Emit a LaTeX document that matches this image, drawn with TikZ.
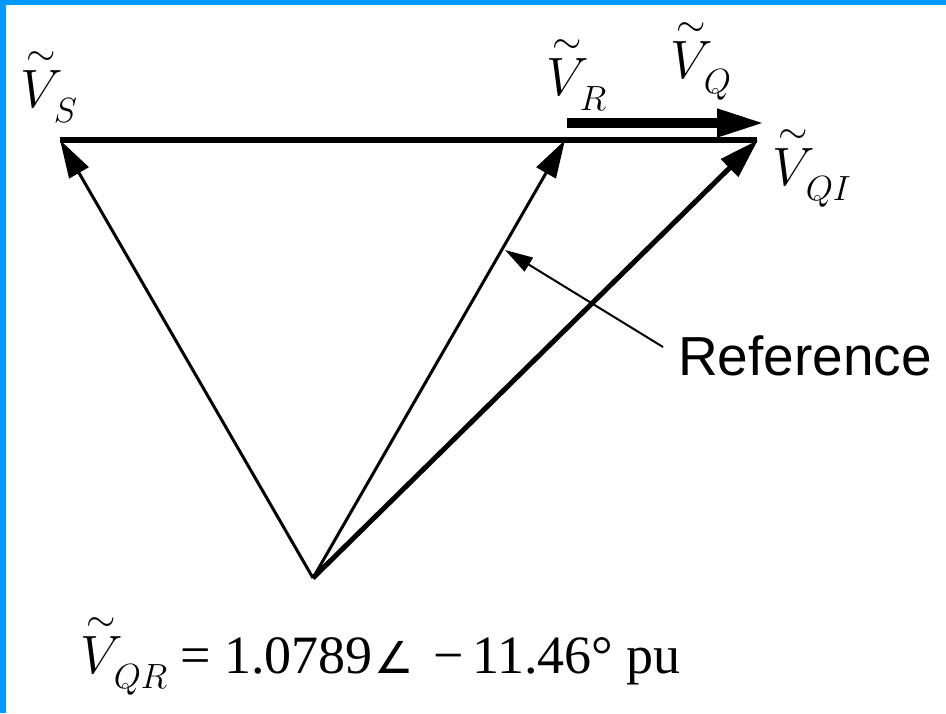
\RequirePackage{fix-cm}
\documentclass[tikz,border=0pt]{standalone}
\usepackage{amsmath}
\usepackage{fontspec}
\setmainfont{Liberation Serif}
\newfontfamily\refsans{Liberation Sans}
\newfontfamily\symsans{DejaVu Sans}
\usetikzlibrary{arrows.meta}
\definecolor{frameblue}{RGB}{0,153,255}
\newcommand\tV{\overset{\sim}{V}}
\newcommand\lowsub[1]{_{\kern-9pt\raisebox{-7pt}{\fontsize{35}{37}\selectfont$#1$}}}
\tikzset{
  vec/.style={line width=3pt, -{Triangle[length=38pt,width=22pt]}},
  thickvec/.style={line width=5pt, -{Triangle[length=40pt,width=24pt]}},
  qvec/.style={line width=10pt, -{Triangle[length=48pt,width=26pt]}},
  baseline/.style={line width=6pt},
  leader/.style={line width=2pt, -{Triangle[length=28pt,width=16pt]}},
  lab/.style={inner sep=0pt, anchor=base west, font=\fontsize{54}{60}\selectfont},
  eqpart/.style={inner sep=0pt, anchor=base west, font=\fontsize{54}{60}\selectfont},
}
\begin{document}
\begin{tikzpicture}[x=1pt,y=-1pt]
\useasboundingbox (0,0) rectangle (946,713);
\fill[frameblue] (0,0) rectangle (946,713);
\fill[white] (6,5) rectangle (946,713);
\coordinate (O) at (313,578);
\coordinate (S) at (60,140);
\coordinate (R) at (565,140);
\coordinate (QI) at (758,140);
\coordinate (Hend) at (757,140);
\coordinate (Qs) at (567,123);
\coordinate (Qe) at (765,123);
\coordinate (Rtip) at (505,250);
\coordinate (refstart) at (663,347);
% horizontal line
\draw[baseline] (S) -- (Hend);
% vectors
\draw[vec] (O) -- (S);
\draw[vec] (O) -- (R);
\draw[thickvec] (O) -- (QI);
\draw[qvec] (Qs) -- (Qe);
% reference leader
\node[inner sep=0pt, anchor=base west, font=\refsans\fontsize{55}{60}\selectfont] (reflabel) at (678,375) {Reference};
\draw[leader] (refstart) -- (Rtip);
% labels
\node[lab] (ls) at (20,107) {$\tV\lowsub{S}$};
\node[lab] (lr) at (546,95) {$\tV\lowsub{R}$};
\node[lab] (lq) at (670,78) {$\tV\lowsub{Q}$};
\node[lab] (lqi) at (772,185) {$\tV\lowsub{QI}$};
% equation
\node[eqpart] (eqv) at (80,673) {$\tV\lowsub{QR}$};
\node[eqpart] (eqeq) at (180,673) {=};
\node[eqpart] (eqmag) at (224,673) {1.0789};
\node[eqpart, font=\symsans\fontsize{44}{50}\selectfont] (eqang) at (374,673) {∠};
\node[eqpart] (eqminus) at (433,673) {−};
\node[eqpart] (eqdeg) at (472,673) {11.46°};
\node[eqpart] (equnit) at (626,673) {pu};
\end{tikzpicture}
\end{document}
